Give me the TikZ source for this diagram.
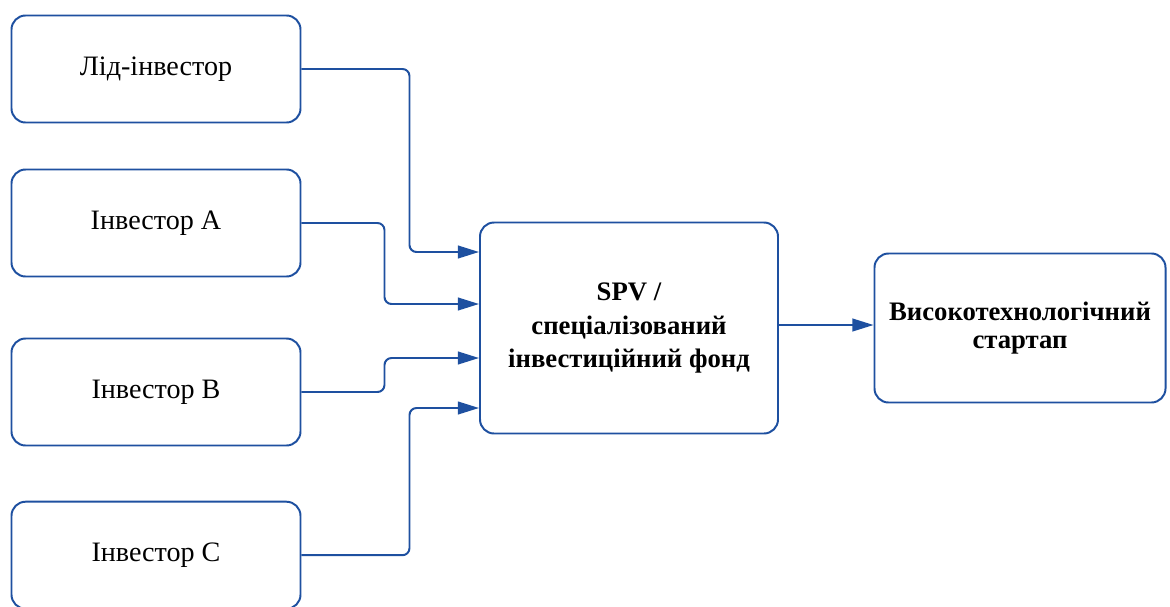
\documentclass[tikz,border=0pt]{standalone}
\usepackage{fontspec}
\setmainfont{Liberation Serif}
\usetikzlibrary{arrows.meta}
\definecolor{boxblue}{RGB}{30,80,160}
\begin{document}
\begin{tikzpicture}[
    box/.style={draw=boxblue, line width=1.4pt, rounded corners=10pt, align=center, inner sep=2pt},
    investor/.style={box, minimum width=7.225cm, minimum height=2.675cm, font=\fontsize{20}{24}\selectfont},
    link/.style={draw=boxblue, line width=1.4pt, rounded corners=5pt, -{Triangle[length=15pt, width=9pt]}}
  ]
    \useasboundingbox (0, 0) rectangle (29.25, -15.15);
    \draw (3.9, -1.725) node[investor](lead){Лід-інвестор}
        (3.9, -5.575) node[investor](invA){Інвестор A}
        (3.9, -9.8) node[investor](invB){Інвестор B}
        (3.9, -13.88) node[investor](invC){Інвестор C};

    \draw (15.725, -8.2) node[box, minimum width=7.45cm, minimum height=5.275cm, font=\bfseries\fontsize{19}{23.5}\selectfont](spv){SPV /\\спеціалізований\\інвестиційний фонд}
        (25.5, -8.2) node[box, minimum width=7.275cm, minimum height=3.725cm, font=\bfseries\fontsize{19}{19.5}\selectfont](startup){Високотехнологічний\\стартап};

    \draw[link] (lead.east) -- ++(2.7, 0) |- ([yshift=1.9cm]spv.west);
    \draw[link] (invA.east) -- ++(2.075, 0) |- ([yshift=0.6cm]spv.west);
    \draw[link] (invB.east) -- ++(2.075, 0) |- ([yshift=-0.75cm]spv.west);
    \draw[link] (invC.east) -- ++(2.7, 0) |- ([yshift=-2cm]spv.west);
    \draw[link] ([yshift=0.075cm]spv.east) -- ([yshift=0.075cm]startup.west);
\end{tikzpicture}
\end{document}
